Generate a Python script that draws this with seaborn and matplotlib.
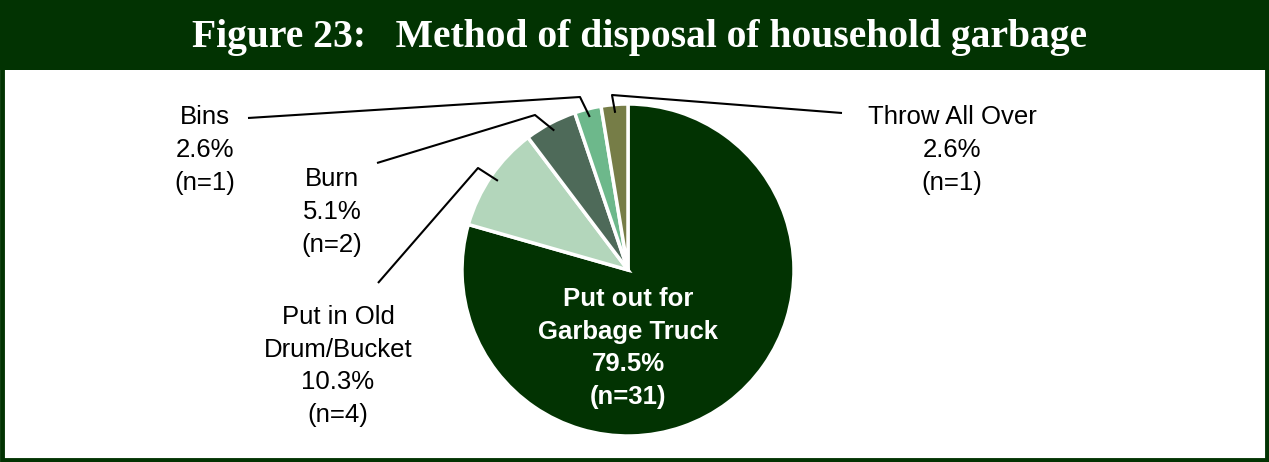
import matplotlib.pyplot as plt
import matplotlib.patches as patches
import numpy as np
import seaborn as sns

# % Data
categories = ["Put out for\nGarbage Truck", "Put in Old\nDrum/Bucket", "Burn", "Bins", "Throw All Over"]
percents = [79.5, 10.3, 5.1, 2.6, 2.6]
counts = [31, 4, 2, 1, 1]
colors = ["#023302", "#b3d6bb", "#4e6a59", "#6db88b", "#767d47"]

# % Layout (pixel coordinates, y from bottom)
W, H = 1269, 462
green = "#023302"
cx, cy, r = 628, 462 - 270, 166

sns.set_theme(style="white")
plt.rcParams["font.family"] = ["Liberation Sans", "DejaVu Sans"]

fig = plt.figure(figsize=(W / 100, H / 100), dpi=100)
ax = fig.add_axes([0, 0, 1, 1])
ax.set_xlim(0, W)
ax.set_ylim(0, H)
ax.set_aspect("equal")
ax.axis("off")

# header + frame
ax.add_patch(patches.Rectangle((0, H - 70), W, 70, facecolor=green, edgecolor="none"))
ax.add_patch(patches.Rectangle((2, 2), W - 4, H - 4, fill=False, edgecolor=green, lw=3.5))
ax.text(640, H - 37, "Figure 23:   Method of disposal of household garbage",
        ha="center", va="center", color="white", fontsize=28.5, fontweight="bold",
        family=["Liberation Serif", "DejaVu Serif"])

# pie
wedges, _ = ax.pie(percents, colors=sns.color_palette(colors), startangle=90, counterclock=False,
                   center=(cx, cy), radius=r,
                   wedgeprops=dict(edgecolor="white", linewidth=2.5))
ax.set_xlim(0, W)
ax.set_ylim(0, H)

ax.text(cx, cy - 78, f"{categories[0]}\n{percents[0]}%\n(n={counts[0]})",
        ha="center", va="center", color="white", fontsize=18.5, fontweight="bold", linespacing=1.45)

# outside labels: text position, elbow, line end near text
outside = {
    1: dict(text=(338, H - 366), elbow=(478, H - 168), end=(378, H - 283)),
    2: dict(text=(332, H - 212), elbow=(535, H - 115), end=(377, H - 163)),
    3: dict(text=(205, H - 150), elbow=(580, H - 97), end=(248, H - 118)),
    4: dict(text=(952, H - 150), elbow=(612, H - 95), end=(842, H - 113)),
}
for i, opt in outside.items():
    w = wedges[i]
    ang = np.deg2rad((w.theta1 + w.theta2) / 2)
    ax_, ay_ = cx + 0.95 * r * np.cos(ang), cy + 0.95 * r * np.sin(ang)
    ax.plot([ax_, opt["elbow"][0], opt["end"][0]], [ay_, opt["elbow"][1], opt["end"][1]],
            color="black", lw=1.5, solid_capstyle="butt")
    ax.text(*opt["text"], f"{categories[i]}\n{percents[i]}%\n(n={counts[i]})",
            ha="center", va="center", color="black", fontsize=18.5, linespacing=1.45)

plt.savefig("out.png", dpi=100)
